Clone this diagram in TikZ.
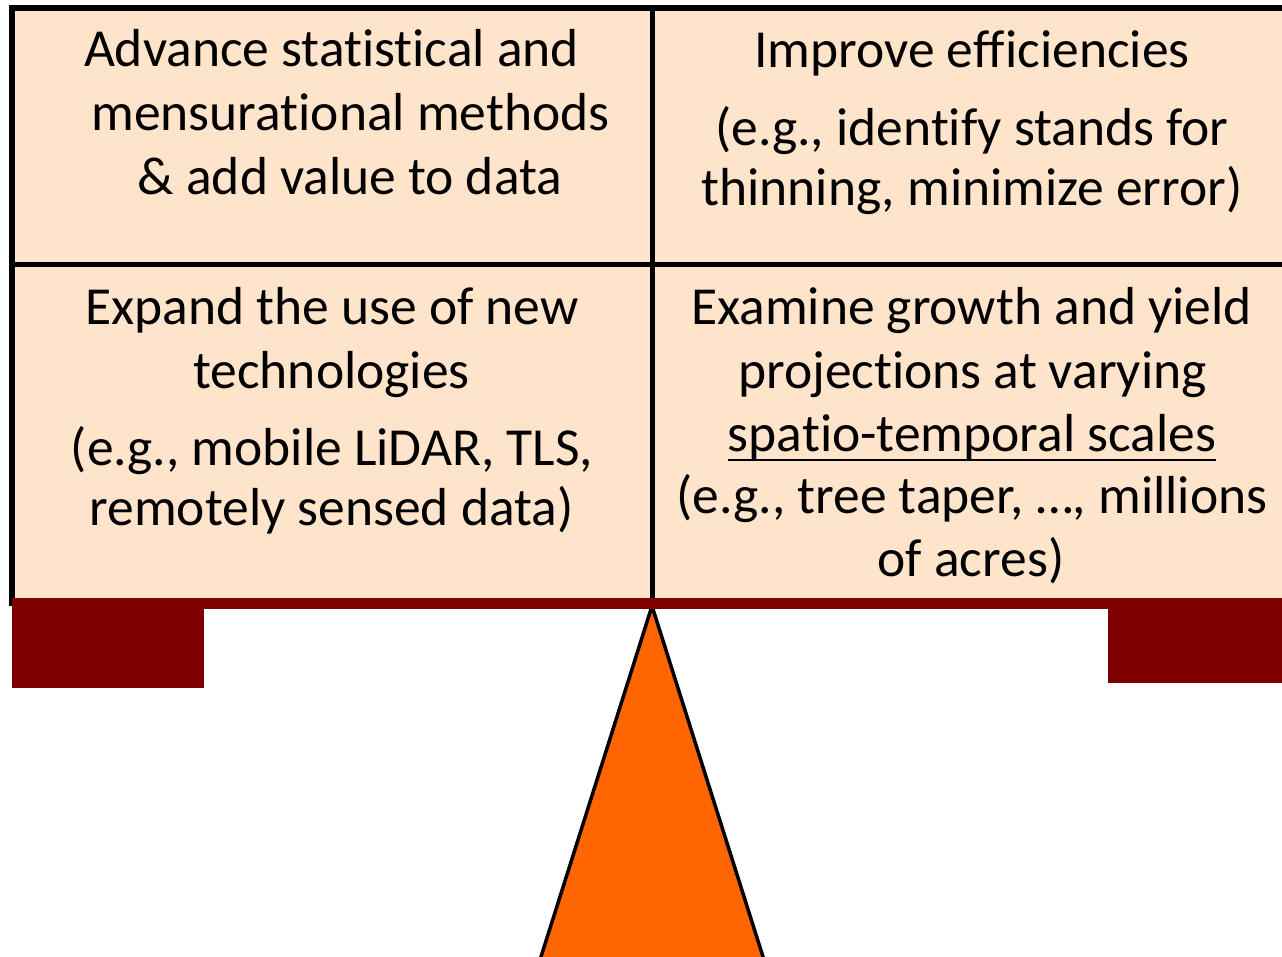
\documentclass[tikz,border=0pt]{standalone}
\usepackage{fontspec}
\setmainfont{Carlito}[Ligatures={NoCommon,NoContextual,NoRequired,NoRare}]
\definecolor{cellfill}{HTML}{FDE4CB}
\definecolor{beam}{HTML}{800000}
\definecolor{fulcrum}{HTML}{FF6600}
\begin{document}
\begin{tikzpicture}[x=1pt,y=-1pt,
  gridline/.style={line width=5.5pt,black},
  txt/.style={anchor=base,inner sep=0pt,font=\fontsize{53.5}{62}\selectfont}]
\useasboundingbox (0,0) rectangle (1282,956);
\clip (0,0) rectangle (1282,956);
% table background
\fill[cellfill] (12,8) rectangle (1290,600);
% table rules
\draw[gridline] (9.25,8) -- (1290,8);
\draw[gridline] (12,5.25) -- (12,606);
\draw[gridline] (12,264.5) -- (1290,264.5);
\draw[gridline] (652.5,8) -- (652.5,600);
% fulcrum
\draw[fill=fulcrum,line width=3.5pt,line join=miter] (652,606) -- (533,982) -- (771,982) -- cycle;
% beam with end weights
\fill[beam] (12,598) rectangle (1282,609);
\fill[beam] (12,598) rectangle (204,688);
\fill[beam] (1108,598) rectangle (1282,683);
% cell texts
\node[txt] (a1) at (331.5,66) {Advance statistical and};
\node[txt] (a2) at (350.5,130) {mensurational methods};
\node[txt] (a3) at (350,194) {\& add value to data};
\node[txt] (b1) at (972,67) {Improve efficiencies};
\node[txt] (b2) at (972,145) {(e.g., identify stands for};
\node[txt] (b3) at (972,205) {thinning, minimize error)};
\node[txt] (c1) at (332,324) {Expand the use of new};
\node[txt] (c2) at (331.5,388) {technologies};
\node[txt] (c3) at (332,465) {(e.g., mobile LiDAR, TLS,};
\node[txt] (c4) at (331.5,525) {remotely sensed data)};
\node[txt] (d1) at (971.5,324) {Examine growth and yield};
\node[txt] (d2) at (972.5,388) {projections at varying};
\node[txt] (d3) at (972,451) {spatio-temporal scales};
\node[txt] (d4) at (972,513) {(e.g., tree taper, …, millions};
\node[txt] (d5) at (971,576) {of acres)};
\draw[line width=2.8pt] ([yshift=-9]d3.base west) -- ([yshift=-9]d3.base east);
\end{tikzpicture}
\end{document}
